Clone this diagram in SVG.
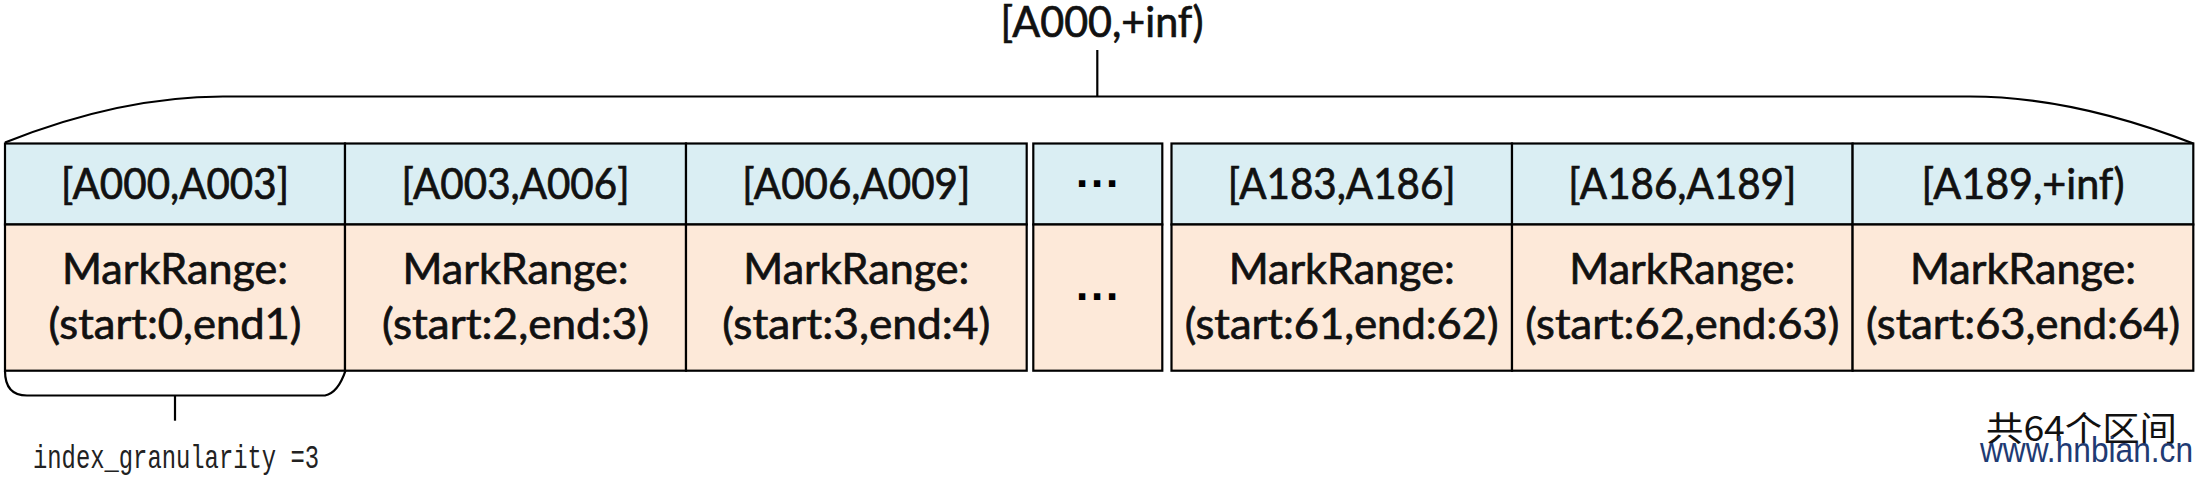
<svg xmlns="http://www.w3.org/2000/svg" width="2206" height="480" viewBox="0 0 2206 480">
<style>
  .hd { fill: #DAEEF3; stroke: #000; stroke-width: 2.2; }
  .bd { fill: #FDE9D9; stroke: #000; stroke-width: 2.2; }
  .ln { fill: none; stroke: #000; stroke-width: 2.2; }
  .t  { font-family: Lato, "Liberation Sans", sans-serif; font-size: 42px; fill: #111; stroke: #111; stroke-width: 0.7; text-anchor: middle; }
  .dots { font-family: "DejaVu Sans", sans-serif; font-weight: bold; font-size: 36px; fill: #000; letter-spacing: 1.3px; }
  .mono { font-family: "Liberation Mono", "DejaVu Sans Mono", monospace; font-size: 34px; fill: #222; }
  .cjk { font-family: "Noto Sans CJK SC", sans-serif; font-size: 34px; fill: #111; }
  .wm { font-family: "Liberation Sans", Arial, sans-serif; font-size: 35px; fill: #1f3b73; }
</style>
<rect width="2206" height="480" fill="#ffffff"/>

<g id="connectors">
  <path class="ln" d="M5,142.5 Q120,96.5 223,96.5 L1970,96.5 Q2073,96.5 2193.3,143.5"/>
  <line class="ln" x1="1097.3" y1="50" x2="1097.3" y2="96.5"/>
  <path class="ln" d="M5,370.7 Q5,395.5 27,395.5 L325,395.5 Q338,393 345.5,370.7"/>
  <line class="ln" x1="175" y1="395.5" x2="175" y2="420.7"/>
</g>

<g id="label-total">
  <text class="t" x="1102" y="37" textLength="203" lengthAdjust="spacingAndGlyphs">[A000,+inf)</text>
</g>

<g id="cell-1">
  <rect class="hd" x="5" y="143.5" width="340" height="81"/>
  <rect class="bd" x="5" y="224.5" width="340" height="146.2"/>
  <text class="t" x="175" y="199" textLength="228" lengthAdjust="spacingAndGlyphs">[A000,A003]</text>
  <text class="t" x="175" y="284" textLength="226" lengthAdjust="spacingAndGlyphs">MarkRange:</text>
  <text class="t" x="175" y="338.5" textLength="253" lengthAdjust="spacingAndGlyphs">(start:0,end1)</text>
</g>

<g id="cell-2">
  <rect class="hd" x="345" y="143.5" width="341" height="81"/>
  <rect class="bd" x="345" y="224.5" width="341" height="146.2"/>
  <text class="t" x="515.5" y="199" textLength="228" lengthAdjust="spacingAndGlyphs">[A003,A006]</text>
  <text class="t" x="515.5" y="284" textLength="226" lengthAdjust="spacingAndGlyphs">MarkRange:</text>
  <text class="t" x="515.5" y="338.5" textLength="267" lengthAdjust="spacingAndGlyphs">(start:2,end:3)</text>
</g>

<g id="cell-3">
  <rect class="hd" x="686" y="143.5" width="340.7" height="81"/>
  <rect class="bd" x="686" y="224.5" width="340.7" height="146.2"/>
  <text class="t" x="856.3" y="199" textLength="228" lengthAdjust="spacingAndGlyphs">[A006,A009]</text>
  <text class="t" x="856.3" y="284" textLength="226" lengthAdjust="spacingAndGlyphs">MarkRange:</text>
  <text class="t" x="856.3" y="338.5" textLength="268" lengthAdjust="spacingAndGlyphs">(start:3,end:4)</text>
</g>

<g id="cell-dots">
  <rect class="hd" x="1033.3" y="143.5" width="129" height="81"/>
  <rect class="bd" x="1033.3" y="224.5" width="129" height="146.2"/>
  <text class="dots" x="1075.2" y="186.6">...</text>
  <text class="dots" x="1075.2" y="300">...</text>
</g>

<g id="cell-4">
  <rect class="hd" x="1171.5" y="143.5" width="340.5" height="81"/>
  <rect class="bd" x="1171.5" y="224.5" width="340.5" height="146.2"/>
  <text class="t" x="1341.7" y="199" textLength="228" lengthAdjust="spacingAndGlyphs">[A183,A186]</text>
  <text class="t" x="1341.7" y="284" textLength="226" lengthAdjust="spacingAndGlyphs">MarkRange:</text>
  <text class="t" x="1341.7" y="338.5" textLength="314" lengthAdjust="spacingAndGlyphs">(start:61,end:62)</text>
</g>

<g id="cell-5">
  <rect class="hd" x="1512" y="143.5" width="340.6" height="81"/>
  <rect class="bd" x="1512" y="224.5" width="340.6" height="146.2"/>
  <text class="t" x="1682.3" y="199" textLength="228" lengthAdjust="spacingAndGlyphs">[A186,A189]</text>
  <text class="t" x="1682.3" y="284" textLength="226" lengthAdjust="spacingAndGlyphs">MarkRange:</text>
  <text class="t" x="1682.3" y="338.5" textLength="314" lengthAdjust="spacingAndGlyphs">(start:62,end:63)</text>
</g>

<g id="cell-6">
  <rect class="hd" x="1852.6" y="143.5" width="340.7" height="81"/>
  <rect class="bd" x="1852.6" y="224.5" width="340.7" height="146.2"/>
  <text class="t" x="2023" y="199" textLength="203" lengthAdjust="spacingAndGlyphs">[A189,+inf)</text>
  <text class="t" x="2023" y="284" textLength="226" lengthAdjust="spacingAndGlyphs">MarkRange:</text>
  <text class="t" x="2023" y="338.5" textLength="314" lengthAdjust="spacingAndGlyphs">(start:63,end:64)</text>
</g>

<g id="label-granularity">
  <text class="mono" x="33" y="468" textLength="286" lengthAdjust="spacingAndGlyphs">index_granularity =3</text>
</g>

<g id="label-count">
  <text class="cjk" x="1986" y="440.5" textLength="191" lengthAdjust="spacingAndGlyphs">共64个区间</text>
</g>

<g id="watermark">
  <text class="wm" x="1980" y="461.7" textLength="213" lengthAdjust="spacingAndGlyphs">www.hnbian.cn</text>
</g>
</svg>
